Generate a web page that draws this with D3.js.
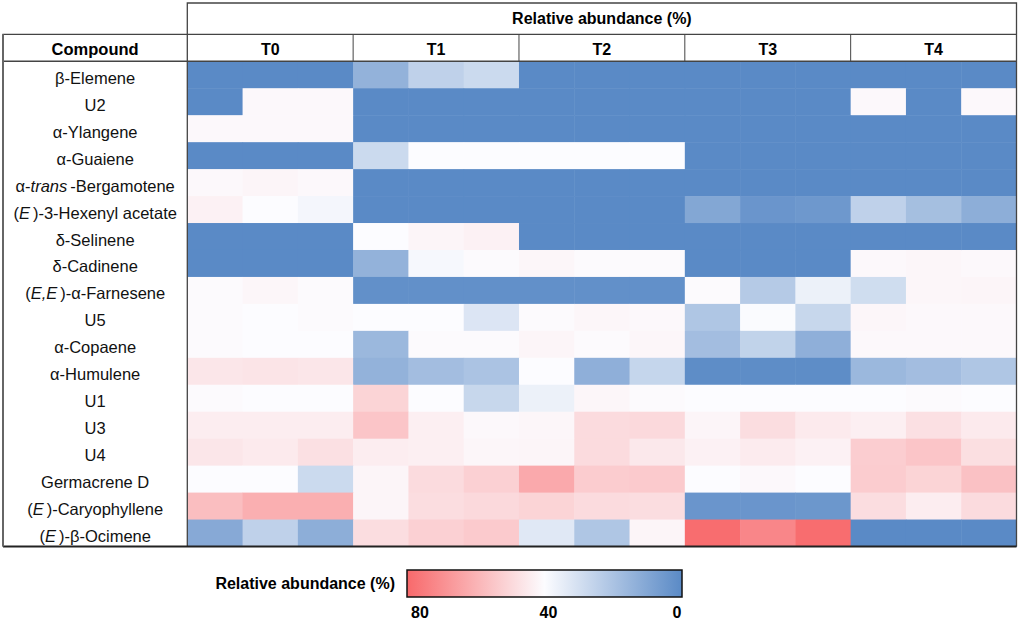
<!DOCTYPE html>
<html>
<head>
<meta charset="utf-8">
<script src="https://cdn.jsdelivr.net/npm/d3@7"></script>
<style>
  body { margin: 0; background: #fff; }
  svg { font-family: "Liberation Sans", Arial, sans-serif; }
</style>
</head>
<body>
<div id="chart"></div>
<script>
// compounds, top to bottom (<i> marks italic parts)
var compounds = [
  "β-Elemene", "U2", "α-Ylangene", "α-Guaiene", "α-<i>trans</i>-Bergamotene",
  "(<i>E</i>)-3-Hexenyl acetate", "δ-Selinene", "δ-Cadinene", "(<i>E,E</i>)-α-Farnesene",
  "U5", "α-Copaene", "α-Humulene", "U1", "U3", "U4", "Germacrene D",
  "(<i>E</i>)-Caryophyllene", "(<i>E</i>)-β-Ocimene"
];
var groups = ["T0", "T1", "T2", "T3", "T4"];
var replicates = ["a", "b", "c"];

// relative abundance (%) per compound, 3 replicates per time point
var valuesT0 = [[0,0,0],[0,41,41],[41,41,41],[0,0,0],[41,42,41],[43,40,38],[0,0,0],[0,0,0],
  [40.5,41.5,40.5],[40.5,40,40.5],[40.5,40,40],[46,46.5,46],[40.5,40,40],[44,44,44],
  [46,45,47.5],[40,40,28],[57,61,61],[11,25,12.5]];
var valuesT1 = [[14,25,28],[0,0,0],[0,0,0],[28,40,40],[0,0,0],[0,0,0],[40,42,43],[14,38.5,40.5],
  [2,2,2],[40,40,32],[16,40.5,40.5],[14,18,20],[51,40,27],[55,43.5,41],
  [44,43.5,41.5],[42,49,52],[42,48.5,49.5],[48.5,52,53.5]];
var valuesT2 = [[0,0,0],[0,0,0],[0,0,0],[40,40,40],[0,0,0],[0,0,0],[0,0,0],[41.5,40.5,40.5],
  [2,2,2],[40.5,41.5,41],[42,40.5,41.5],[40,13,26.5],[36,41.5,40.5],[41.5,49,49.5],
  [42,49,45.5],[62.5,53,53.5],[51,49,48.5],[33,21,42]];
var valuesT3 = [[0,0,0],[0,0,0],[0,0,0],[0,0,0],[0,0,0],[10,4,5],[0,0,0],[0,0,0],
  [40.5,22.5,36],[21,39.5,27],[18,25.5,13],[1,1,1],[40,40,40],[42,48.5,45],
  [43,44.5,43],[40,41,40],[4,4,4.5],[79,72,79]];
var valuesT4 = [[0,0,0],[41,0,41],[0,0,0],[0,0,0],[0,0,0],[25,18.5,12.5],[0,0,0],[41,41.5,41],
  [29,41.5,42],[41.5,41,41],[41,41,41],[16,18,21],[40,40.5,40],[43.5,47.5,45],
  [52.8,55,48],[53,51,56],[48.5,44,49],[0,0,0]];
var groupValues = [valuesT0, valuesT1, valuesT2, valuesT3, valuesT4];

var legendTicks = [80, 40, 0];

var svgWidth = 1021;
var svgHeight = 620;

var table = { left: 3, labelRight: 187.3, right: 1016.5, top: 3, midHeader: 34.3, bodyTop: 61.3, bottom: 546.5 };

var svg = d3.select("#chart")
  .append("svg")
  .attr("width", svgWidth)
  .attr("height", svgHeight);

// flatten into cells
var cells = [];
compounds.forEach(function(c, i) {
  groups.forEach(function(g, gi) {
    replicates.forEach(function(r, ri) {
      cells.push({ compound: i, col: g + r, value: groupValues[gi][i][ri] });
    });
  });
});

var colKeys = [];
groups.forEach(function(g) { replicates.forEach(function(r) { colKeys.push(g + r); }); });

var x = d3.scaleBand()
  .domain(colKeys)
  .range([table.labelRight, table.right]);

var xGroup = d3.scaleBand()
  .domain(groups)
  .range([table.labelRight, table.right]);

var y = d3.scaleBand()
  .domain(d3.range(compounds.length))
  .range([table.bodyTop, table.bottom]);

var color = d3.scaleLinear()
  .domain([0, 40, 80])
  .range(["#5A8AC6", "#FCFCFF", "#F8696B"]);

// heat cells
svg.append("g")
  .selectAll("rect")
  .data(cells)
  .enter()
  .append("rect")
  .attr("x", d => x(d.col))
  .attr("y", d => y(d.compound))
  .attr("width", x.bandwidth() + 0.5)
  .attr("height", y.bandwidth() + 0.5)
  .attr("fill", d => color(d.value));

// compound labels, with italic parts
function addRichText(sel, str) {
  var parts = str.split(/(<i>.*?<\/i>)/).filter(p => p.length);
  var afterItalic = false;
  parts.forEach(function(p) {
    var italic = p.indexOf("<i>") === 0;
    var t = sel.append("tspan").text(p.replace(/<\/?i>/g, ""));
    if (italic) t.attr("font-style", "italic");
    if (afterItalic) t.attr("dx", 3);
    afterItalic = italic;
  });
}

var labels = svg.append("g")
  .selectAll("text")
  .data(compounds)
  .enter()
  .append("text")
  .attr("x", (table.left + table.labelRight) / 2)
  .attr("y", (d, i) => y(i) + y.bandwidth() / 2 + 9)
  .attr("text-anchor", "middle")
  .attr("font-size", 16.5)
  .attr("fill", "#111");
labels.each(function(d) { addRichText(d3.select(this), d); });

// header
var lines = svg.append("g")
  .attr("stroke", "#444")
  .attr("fill", "none");

lines.append("path")
  .attr("d", `M${table.labelRight},${table.bottom} V${table.top} H${table.right} V${table.bottom}`)
  .attr("stroke-width", 1.3);
lines.append("path")
  .attr("d", `M${table.left},${table.bottom} V${table.midHeader} H${table.right}`)
  .attr("stroke-width", 1.3);
lines.append("line")
  .attr("x1", table.left).attr("x2", table.right)
  .attr("y1", table.bodyTop).attr("y2", table.bodyTop)
  .attr("stroke-width", 1.6);
lines.append("line")
  .attr("x1", table.left).attr("x2", table.right)
  .attr("y1", table.bottom).attr("y2", table.bottom)
  .attr("stroke", "#222")
  .attr("stroke-width", 2);
lines.append("line")
  .attr("x1", table.left).attr("x2", table.left)
  .attr("y1", table.midHeader).attr("y2", table.bottom)
  .attr("stroke", "#666")
  .attr("stroke-width", 2);
lines.selectAll("line.sep")
  .data(groups.slice(1))
  .enter()
  .append("line")
  .attr("class", "sep")
  .attr("x1", d => xGroup(d)).attr("x2", d => xGroup(d))
  .attr("y1", table.midHeader).attr("y2", table.bodyTop)
  .attr("stroke-width", 1);

svg.append("text")
  .attr("x", (table.labelRight + table.right) / 2)
  .attr("y", (table.top + table.midHeader) / 2)
  .attr("dy", "0.36em")
  .attr("text-anchor", "middle")
  .attr("font-size", 16)
  .attr("font-weight", "bold")
  .text("Relative abundance (%)");

svg.append("text")
  .attr("x", (table.left + table.labelRight) / 2)
  .attr("y", (table.midHeader + table.bodyTop) / 2 + 1.5)
  .attr("dy", "0.36em")
  .attr("text-anchor", "middle")
  .attr("font-size", 16.5)
  .attr("font-weight", "bold")
  .text("Compound");

svg.append("g")
  .selectAll("text")
  .data(groups)
  .enter()
  .append("text")
  .attr("x", d => xGroup(d) + xGroup.bandwidth() / 2)
  .attr("y", (table.midHeader + table.bodyTop) / 2 + 1.5)
  .attr("dy", "0.36em")
  .attr("text-anchor", "middle")
  .attr("font-size", 16)
  .attr("font-weight", "bold")
  .text(d => d);

// legend
var legend = { x: 407, y: 570, w: 275, h: 27 };
var legendScale = d3.scaleLinear()
  .domain([80, 0])
  .range([420, 677]);

var grad = svg.append("defs")
  .append("linearGradient")
  .attr("id", "legendGrad")
  .attr("x1", "0%").attr("x2", "100%");
grad.selectAll("stop")
  .data([80, 60, 40, 20, 0])
  .enter()
  .append("stop")
  .attr("offset", (d, i) => (i * 25) + "%")
  .attr("stop-color", d => color(d));

svg.append("rect")
  .attr("x", legend.x)
  .attr("y", legend.y)
  .attr("width", legend.w)
  .attr("height", legend.h)
  .attr("fill", "url(#legendGrad)")
  .attr("stroke", "#111")
  .attr("stroke-width", 1.5);

svg.append("text")
  .attr("x", legend.x - 12)
  .attr("y", legend.y + legend.h / 2)
  .attr("dy", "0.36em")
  .attr("text-anchor", "end")
  .attr("font-size", 16)
  .attr("font-weight", "bold")
  .text("Relative abundance (%)");

svg.append("g")
  .selectAll("text")
  .data(legendTicks)
  .enter()
  .append("text")
  .attr("x", d => legendScale(d))
  .attr("y", 618)
  .attr("text-anchor", "middle")
  .attr("font-size", 16)
  .attr("font-weight", "bold")
  .text(d => d);
</script>
</body>
</html>
